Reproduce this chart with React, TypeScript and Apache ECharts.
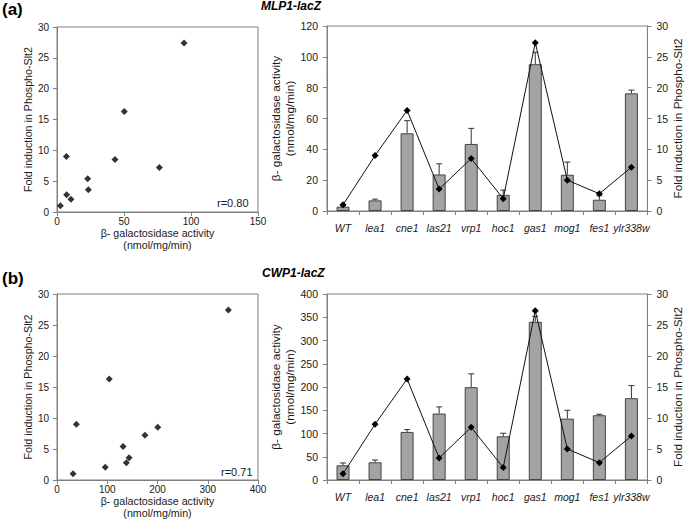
import React, { useEffect, useRef } from 'react';
import * as echarts from 'echarts';

const categories = ['WT', 'lea1', 'cne1', 'las21', 'vrp1', 'hoc1', 'gas1', 'mog1', 'fes1', 'ylr338w'];

// Panel (a) MLP1-lacZ
const mlpActivity = [2.8, 6.9, 50.4, 23.7, 43.5, 10.5, 95.2, 23.5, 7.3, 76.3];
const mlpErrorTop = [3.3, 7.7, 58.6, 30.6, 53.6, 13.6, 103, 31.7, 9.9, 78.4];
// Panel (b) CWP1-lacZ
const cwpActivity = [31.6, 38.1, 103.4, 142.9, 199.6, 94, 340.3, 132, 139.3, 176];
const cwpErrorTop = [36.6, 43, 108.4, 157.2, 228.3, 100.5, 352, 150, 141.4, 203];
// Fold induction in Phospho-Slt2 (line series)
const foldInduction = [1.0, 9.0, 16.3, 3.55, 8.5, 2.0, 27.3, 5.0, 2.8, 7.1];

// Scatter plots
const mlpScatterX = [2.5, 7, 50.2, 23.4, 43.3, 10.4, 94.8, 22.9, 7.2, 76.4];
const cwpScatterX = [32, 38.5, 104, 143.4, 200.5, 96, 341, 131.5, 138, 175];
const scatterFold = [1.0, 9.0, 16.3, 3.6, 8.5, 2.05, 27.4, 5.4, 2.8, 7.2];

const mlpYTicks = { min: 0, max: 120, interval: 20 };
const cwpYTicks = { min: 0, max: 400, interval: 50 };
const foldTicks = { min: 0, max: 30, interval: 5 };
const mlpScatterXTicks = { min: 0, max: 150, interval: 50 };
const cwpScatterXTicks = { min: 0, max: 400, interval: 100 };

const FONT = 'Liberation Sans, Arial, sans-serif';
const AXIS_COLOR = '#808080';
const TEXT_COLOR = '#1a1a1a';

const axisBase = (fontSize: number) => ({
  axisLine: { show: true, onZero: false, lineStyle: { color: AXIS_COLOR, width: 1 } },
  axisTick: { show: true, length: 4, lineStyle: { color: AXIS_COLOR, width: 1 } },
  axisLabel: { color: TEXT_COLOR, fontFamily: FONT, fontSize },
  splitLine: { show: false },
  nameTextStyle: { color: TEXT_COLOR, fontFamily: FONT },
});

const errorRender = (params: any, api: any) => {
  const x = api.value(0);
  const base = api.value(1);
  const top = api.value(2);
  const p0 = api.coord([x, base]);
  const p1 = api.coord([x, top]);
  const st = { stroke: '#333', lineWidth: 1 };
  return {
    type: 'group',
    children: [
      { type: 'line', shape: { x1: p0[0], y1: p0[1], x2: p1[0], y2: p1[1] }, style: st },
      { type: 'line', shape: { x1: p1[0] - 3, y1: p1[1], x2: p1[0] + 3, y2: p1[1] }, style: st },
    ],
  };
};

function scatterXAxis(gridIndex: number, ticks: any) {
  const b = axisBase(10);
  return {
    type: 'value',
    gridIndex,
    ...ticks,
    ...b,
    axisLabel: { ...b.axisLabel, margin: 4 },
    name: 'β- galactosidase activity\n(nmol/mg/min)',
    nameLocation: 'middle',
    nameGap: 13,
    nameTextStyle: { ...b.nameTextStyle, fontSize: 10.7, lineHeight: 12 },
  };
}

function scatterYAxis(gridIndex: number) {
  const b = axisBase(10);
  return {
    type: 'value',
    gridIndex,
    ...foldTicks,
    ...b,
    axisLabel: { ...b.axisLabel, margin: 8 },
    name: 'Fold induction in Phospho-Slt2',
    nameLocation: 'middle',
    nameGap: 24,
    nameTextStyle: { ...b.nameTextStyle, fontSize: 10.7 },
  };
}

function barXAxis(gridIndex: number) {
  const b = axisBase(10.5);
  return {
    type: 'category',
    gridIndex,
    data: categories,
    boundaryGap: true,
    ...b,
    axisTick: { ...b.axisTick, alignWithLabel: false },
    axisLabel: { ...b.axisLabel, fontStyle: 'italic', margin: 11, interval: 0 },
  };
}

function barLeftAxis(gridIndex: number, ticks: any) {
  const b = axisBase(10.5);
  return {
    type: 'value',
    gridIndex,
    position: 'left',
    ...ticks,
    ...b,
    axisLabel: { ...b.axisLabel, margin: 9 },
    name: 'β- galactosidase activity\n(nmol/mg/min)',
    nameLocation: 'middle',
    nameGap: 24,
    nameTextStyle: { ...b.nameTextStyle, fontSize: 11.8, lineHeight: 14 },
  };
}

function barRightAxis(gridIndex: number) {
  const b = axisBase(10.5);
  return {
    type: 'value',
    gridIndex,
    position: 'right',
    ...foldTicks,
    ...b,
    axisLabel: { ...b.axisLabel, margin: 9 },
    name: 'Fold induction in Phospho-Slt2',
    nameLocation: 'middle',
    nameRotate: 90,
    nameGap: 24,
    nameTextStyle: { ...b.nameTextStyle, fontSize: 11.8 },
  };
}

function barSeries(xAxisIndex: number, yAxisIndex: number, values: number[]) {
  return {
    type: 'bar',
    xAxisIndex,
    yAxisIndex,
    data: values,
    barWidth: 13,
    itemStyle: { color: '#a3a3a3', borderColor: '#444', borderWidth: 1 },
    z: 2,
  };
}

function errorSeries(xAxisIndex: number, yAxisIndex: number, values: number[], tops: number[]) {
  return {
    type: 'custom',
    xAxisIndex,
    yAxisIndex,
    renderItem: errorRender,
    data: categories.map((_, i) => [i, values[i], tops[i]]),
    encode: { x: 0, y: [1, 2] },
    z: 3,
  };
}

function lineSeries(xAxisIndex: number, yAxisIndex: number) {
  return {
    type: 'line',
    xAxisIndex,
    yAxisIndex,
    data: foldInduction,
    symbol: 'diamond',
    symbolSize: 7,
    lineStyle: { color: '#111', width: 1 },
    itemStyle: { color: '#000' },
    z: 4,
  };
}

function scatterSeries(xAxisIndex: number, yAxisIndex: number, xs: number[]) {
  return {
    type: 'scatter',
    xAxisIndex,
    yAxisIndex,
    data: xs.map((x, i) => [x, scatterFold[i]]),
    symbol: 'diamond',
    symbolSize: 7,
    itemStyle: { color: '#000' },
  };
}

const gridStyle = { show: true, borderColor: AXIS_COLOR, borderWidth: 1, backgroundColor: 'transparent' };

const option: any = {
  animation: false,
  backgroundColor: '#ffffff',
  textStyle: { fontFamily: FONT },
  grid: [
    { left: 57, top: 27, width: 201, height: 185, ...gridStyle },
    { left: 327, top: 26, width: 322, height: 185, ...gridStyle },
    { left: 57, top: 294, width: 201, height: 186, ...gridStyle },
    { left: 327, top: 294, width: 322, height: 186, ...gridStyle },
  ],
  xAxis: [
    scatterXAxis(0, mlpScatterXTicks),
    barXAxis(1),
    scatterXAxis(2, cwpScatterXTicks),
    barXAxis(3),
  ],
  yAxis: [
    scatterYAxis(0),
    barLeftAxis(1, mlpYTicks),
    barRightAxis(1),
    scatterYAxis(2),
    barLeftAxis(3, cwpYTicks),
    barRightAxis(3),
  ],
  series: [
    scatterSeries(0, 0, mlpScatterX),
    barSeries(1, 1, mlpActivity),
    errorSeries(1, 1, mlpActivity, mlpErrorTop),
    lineSeries(1, 2),
    scatterSeries(2, 3, cwpScatterX),
    barSeries(3, 4, cwpActivity),
    errorSeries(3, 4, cwpActivity, cwpErrorTop),
    lineSeries(3, 5),
  ],
  graphic: [
    { type: 'text', left: 2, top: 1, style: { text: '(a)', font: `bold 17px ${FONT}`, fill: '#000' } },
    { type: 'text', left: 2, top: 270, style: { text: '(b)', font: `bold 17px ${FONT}`, fill: '#000' } },
    { type: 'text', left: 261, top: 0, style: { text: 'MLP1-lacZ', font: `italic bold 12px ${FONT}`, fill: '#000' } },
    { type: 'text', left: 262, top: 267, style: { text: 'CWP1-lacZ', font: `italic bold 12px ${FONT}`, fill: '#000' } },
    { type: 'text', left: 217, top: 197, style: { text: 'r=0.80', font: `11px ${FONT}`, fill: TEXT_COLOR } },
    { type: 'text', left: 221, top: 466, style: { text: 'r=0.71', font: `11px ${FONT}`, fill: TEXT_COLOR } },
  ],
};

export default function App() {
  const ref = useRef<HTMLDivElement>(null);
  useEffect(() => {
    document.body.style.margin = '0';
    const chart = echarts.init(ref.current!, null, { renderer: 'svg' });
    chart.setOption(option);
    return () => chart.dispose();
  }, []);
  return <div ref={ref} style={{ width: 685, height: 526 }} />;
}
